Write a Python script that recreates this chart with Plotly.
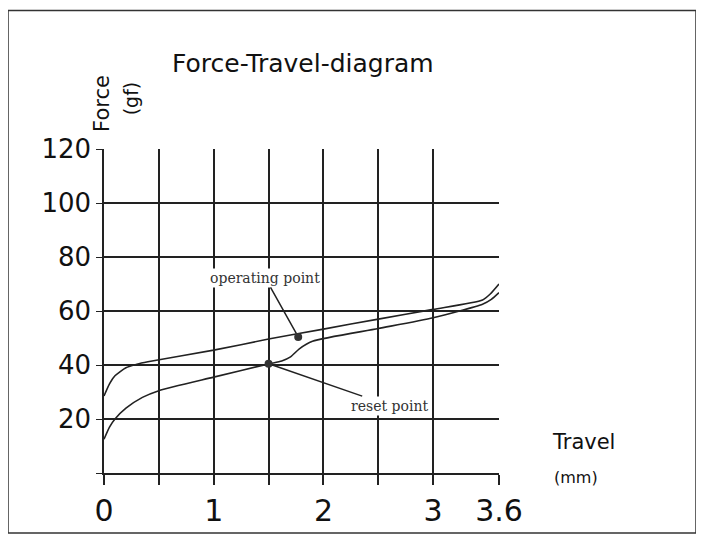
import plotly.graph_objects as go

op_x = [0, 0.05, 0.1, 0.2, 0.3, 0.4, 1.0, 1.5, 2.0, 2.5, 3.0, 3.45, 3.52, 3.6]
op_y = [28.5, 33, 36, 39, 40.3, 41.2, 45.5, 49.6, 53.3, 57, 60.6, 64.1, 66.3, 70]
rs_x = [0, 0.05, 0.1, 0.2, 0.35, 0.5, 1.0, 1.5, 1.62, 1.7, 1.78, 1.9, 2.5, 3.0, 3.45, 3.53, 3.6]
rs_y = [12.5, 17, 20, 24, 28, 30.5, 35.5, 40.4, 41.5, 43, 46, 48.8, 53.5, 57.5, 62.5, 64.3, 66.8]
pts_x = [1.77, 1.5]
pts_y = [50.4, 40.5]
grid_x = [0, 0.5, 1, 1.5, 2, 2.5, 3, 3.6]
grid_lbl = ['0', '', '1', '', '2', '', '3', '3.6']
y_ticks = [0, 20, 40, 60, 80, 100, 120]

fig = go.Figure()
for xs, ys in [(op_x, op_y), (rs_x, rs_y)]:
    fig.add_trace(go.Scatter(x=xs, y=ys, mode='lines', line=dict(color='#222', width=1.6, shape='spline', smoothing=0.6),
                             showlegend=False, hoverinfo='skip'))
fig.add_trace(go.Scatter(x=pts_x, y=pts_y, mode='markers', marker=dict(color='#333', size=8), showlegend=False))

note_font = dict(family='DejaVu Serif', size=14, color='#333')
fig.add_annotation(x=pts_x[0], y=pts_y[0], ax=-33, ay=-59, text='operating point',
                   showarrow=True, arrowhead=0, arrowwidth=1.5, arrowcolor='#222', font=note_font, bgcolor='white',
                   standoff=4)
fig.add_annotation(x=pts_x[1], y=pts_y[1], ax=121, ay=42, text='reset point',
                   showarrow=True, arrowhead=0, arrowwidth=1.5, arrowcolor='#222', font=note_font, bgcolor='white',
                   standoff=4)

big = dict(family='DejaVu Sans', color='#111')
fig.add_annotation(xref='paper', yref='paper', x=(170-104)/395, y=(479-62)/330, xanchor='left', yanchor='middle',
                   text='Force-Travel-diagram', showarrow=False, font=dict(size=25, **big))
fig.add_annotation(xref='paper', yref='paper', x=(88-104)/395, y=(479-72)/330, text='Force', textangle=-90,
                   showarrow=False, font=dict(size=21, **big))
fig.add_annotation(xref='paper', yref='paper', x=(118-104)/395, y=(479-78)/330, text='(gf)', textangle=-90,
                   showarrow=False, font=dict(size=19, **big))
fig.add_annotation(xref='paper', yref='paper', x=(550-104)/395, y=(479-462)/330, xanchor='left', text='Travel',
                   showarrow=False, font=dict(size=21, **big))
fig.add_annotation(xref='paper', yref='paper', x=(552-104)/395, y=(479-495)/330, xanchor='left', text='(mm)',
                   showarrow=False, font=dict(size=16, **big))

fig.add_shape(type='rect', xref='paper', yref='paper', x0=(8-104)/395, x1=(696-104)/395,
              y0=(479-540)/330, y1=(479-8)/330, line=dict(color='#333', width=1.5))

fig.update_layout(
    width=688, height=532, margin=dict(l=96, r=197, t=141, b=61),
    plot_bgcolor='white', paper_bgcolor='white',
    xaxis=dict(range=[0, 3.6], tickvals=grid_x, ticktext=grid_lbl, showgrid=True, gridcolor='#222', gridwidth=1.5,
               ticks='outside', ticklen=10, tickcolor='#222', tickwidth=1.5, showline=True, linecolor='#222',
               linewidth=1.5, zeroline=False, tickfont=dict(size=30, **big)),
    yaxis=dict(range=[0, 120], tickvals=y_ticks, ticktext=['', '20', '40', '60', '80', '100', '120'], showgrid=True,
               gridcolor='#222', gridwidth=1.5, ticks='outside', ticklen=6, tickcolor='#222', showline=True,
               linecolor='#222', linewidth=1.5, zeroline=False, tickfont=dict(size=26, **big)),
)
fig.write_html("out.html")
